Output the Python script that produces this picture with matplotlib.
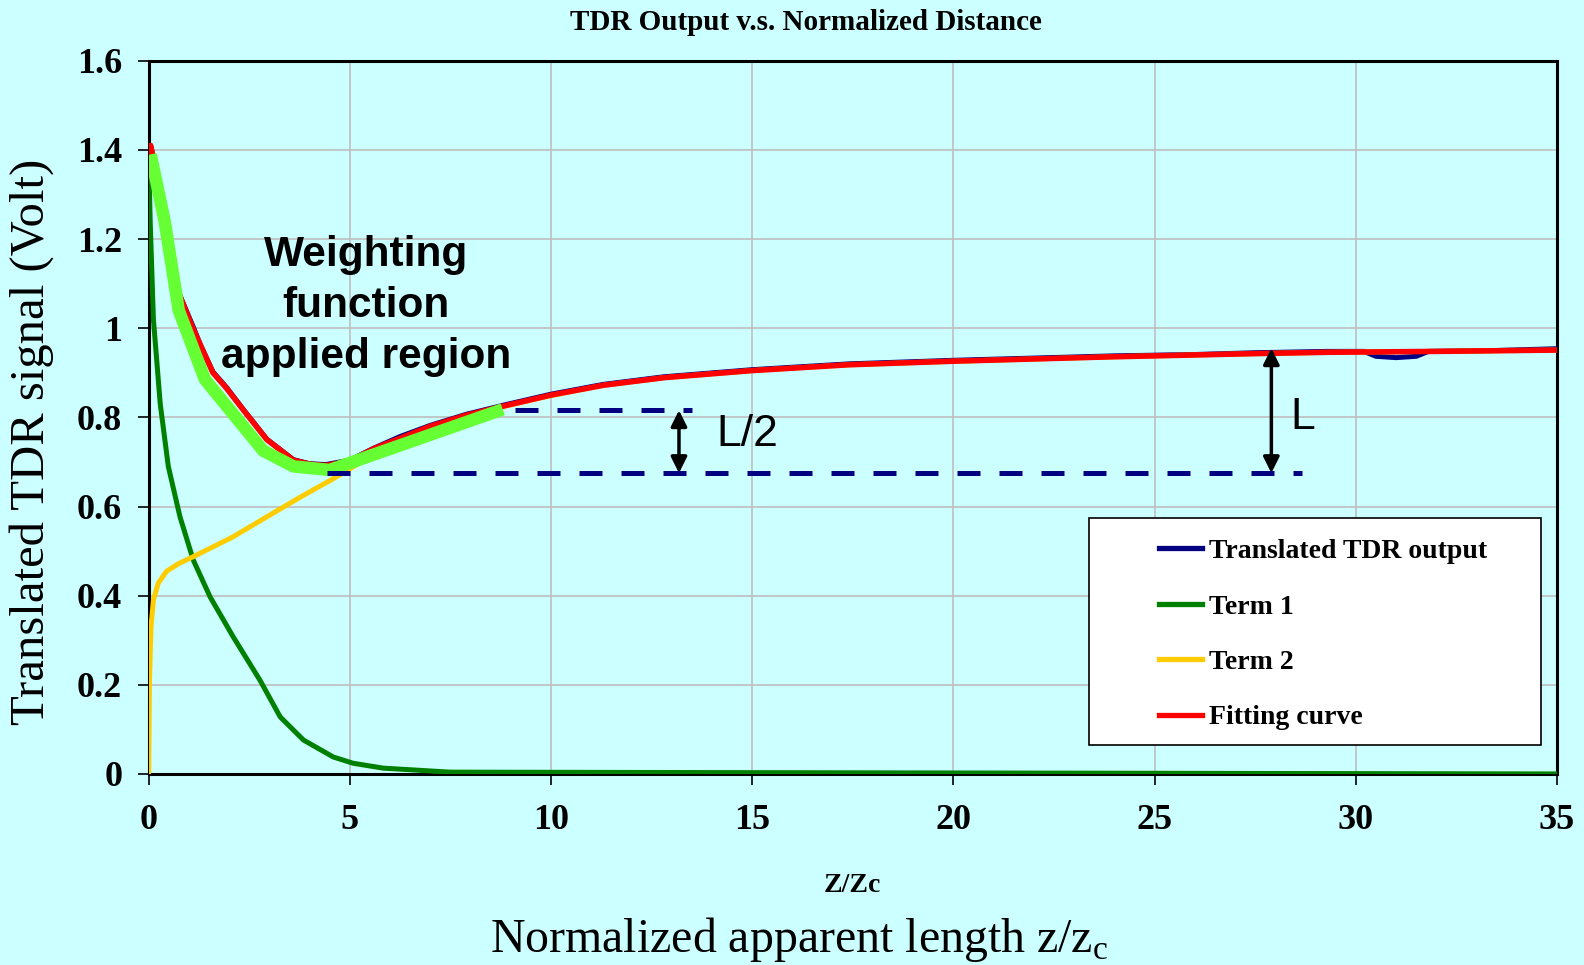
#!/usr/bin/env python3

import matplotlib
matplotlib.use("Agg")
import matplotlib.pyplot as plt
from matplotlib.patches import Rectangle

# Data
x_ticks = [0, 5, 10, 15, 20, 25, 30, 35]
y_ticks = [0, 0.2, 0.4, 0.6, 0.8, 1.0, 1.2, 1.4, 1.6]
y_tick_labels = ["0", "0.2", "0.4", "0.6", "0.8", "1", "1.2", "1.4", "1.6"]

# Translated TDR output (navy)
tdr_x = [0.0, 0.05, 0.15, 0.37, 0.7, 1.1, 1.3, 1.6, 1.94, 2.36, 2.94, 3.6, 4.0, 4.4,
         5.0, 5.6, 6.25, 7.0, 7.9, 8.85, 10, 11.3, 12.8, 15, 17.4, 20, 22.4, 24,
         26, 27.5, 29.3, 30.2, 30.5, 31.0, 31.5, 31.8, 33.5, 35]
tdr_y = [1.40, 1.41, 1.37, 1.25, 1.09, 1.005, 0.96, 0.902, 0.867, 0.817, 0.751, 0.705,
         0.696, 0.694, 0.704, 0.731, 0.757, 0.782, 0.807, 0.828, 0.852, 0.874, 0.891,
         0.907, 0.920, 0.928, 0.934, 0.938, 0.941, 0.945, 0.948, 0.948, 0.937, 0.934,
         0.937, 0.948, 0.950, 0.954]

# Term 1 (green)
term1_x = [0.0, 0.04, 0.12, 0.29, 0.49, 0.78, 1.11, 1.53, 2.1, 2.77, 3.27, 3.85,
           4.59, 5.08, 5.83, 7.5, 35]
term1_y = [1.40, 1.24, 1.02, 0.83, 0.69, 0.577, 0.48, 0.397, 0.308, 0.21, 0.128,
           0.076, 0.038, 0.024, 0.013, 0.004, 0.0]

# Term 2 (yellow)
term2_x = [0.0, 0.02, 0.06, 0.12, 0.24, 0.45, 0.75, 1.1, 2.1, 2.94, 3.77, 4.6, 5.6,
           6.3, 7.0, 7.9, 8.85, 10, 11.3, 12.8, 15, 17.4, 20, 22.4, 24, 26, 27.5,
           29.3, 32, 35]
term2_y = [0.0, 0.2, 0.33, 0.39, 0.428, 0.455, 0.472, 0.487, 0.532, 0.577, 0.621,
           0.663, 0.717, 0.747, 0.775, 0.803, 0.825, 0.849, 0.872, 0.889, 0.905,
           0.918, 0.926, 0.932, 0.936, 0.940, 0.943, 0.946, 0.948, 0.951]

# Fitting curve (red)
fit_x = [0.0, 0.05, 0.15, 0.37, 0.7, 1.1, 1.6, 1.94, 2.36, 2.94, 3.6, 4.0, 4.4, 5.0,
         5.6, 6.3, 7.0, 7.9, 8.85, 10, 11.3, 12.8, 15, 17.4, 20, 22.4, 24, 26, 27.5,
         29.3, 32, 35]
fit_y = [1.39, 1.41, 1.37, 1.25, 1.09, 1.0, 0.9, 0.865, 0.816, 0.75, 0.704, 0.695,
         0.692, 0.702, 0.73, 0.755, 0.78, 0.805, 0.826, 0.85, 0.872, 0.889, 0.905,
         0.918, 0.926, 0.932, 0.936, 0.940, 0.943, 0.946, 0.948, 0.951]

# Weighting function region highlight (lime)
weight_x = [0.05, 0.4, 0.75, 1.4, 2.85, 3.6, 4.5, 6.4, 8.8]
weight_y = [1.39, 1.24, 1.04, 0.885, 0.725, 0.69, 0.682, 0.742, 0.818]

# Reference levels for L and L/2
low_level = 0.675
half_level = 0.816
high_level = 0.955

bg = "#CCFFFF"
serif = "Liberation Serif"
sans = "Liberation Sans"

fig = plt.figure(figsize=(15.84, 9.65), dpi=100, facecolor=bg)
ax = fig.add_axes([0.0938, 0.198, 0.8892, 0.739])
ax.set_facecolor(bg)

ax.plot(tdr_x, tdr_y, color="#000080", lw=3.6, label="Translated TDR output", zorder=3)
ax.plot(term1_x, term1_y, color="#008000", lw=3.6, label="Term 1", zorder=3)
ax.plot(term2_x, term2_y, color="#FFCC00", lw=3.6, label="Term 2", zorder=3)
ax.plot(fit_x, fit_y, color="#FF0000", lw=4.0, label="Fitting curve", zorder=3)
ax.plot(weight_x, weight_y, color="#66FF33", lw=9.0, zorder=4, solid_capstyle="butt")

# dashed reference lines
ax.plot([4.43, 28.67], [low_level, low_level], color="#000080", lw=3.6,
        dashes=(4.6, 3.8), zorder=5)
ax.plot([9.1, 13.5], [half_level, half_level], color="#000080", lw=3.6,
        dashes=(4.6, 3.8), zorder=5)

# arrows
arrow_kw = dict(arrowstyle="<|-|>", color="black", lw=2.5, mutation_scale=24,
                shrinkA=0, shrinkB=0)
ax.annotate("", xy=(13.18, half_level), xytext=(13.18, low_level), arrowprops=arrow_kw, zorder=6)
ax.annotate("", xy=(27.9, high_level), xytext=(27.9, low_level), arrowprops=arrow_kw, zorder=6)

ax.text(14.87, 0.762, "L/2", fontsize=32, family=sans, ha="center", va="center")
ax.text(28.69, 0.799, "L", fontsize=32, family=sans, ha="center", va="center")
ax.text(5.4, 1.05, "Weighting\nfunction\napplied region", fontsize=30.5,
        family=sans, weight="bold", ha="center", va="center", linespacing=1.35)

ax.set_xlim(0, 35)
ax.set_ylim(0, 1.6)
ax.set_xticks(x_ticks)
ax.set_yticks(y_ticks)
ax.set_yticklabels(y_tick_labels)
for lab in ax.get_xticklabels() + ax.get_yticklabels():
    lab.set_fontfamily(serif)
    lab.set_fontweight("bold")
    lab.set_fontsize(26)
ax.tick_params(axis="x", length=8, width=1.2, pad=14, direction="out")
ax.tick_params(axis="y", length=8, width=1.2, pad=11, direction="out")
ax.grid(True, color="#BEBEBE", lw=1.2)
ax.set_axisbelow(True)
for s in ax.spines.values():
    s.set_linewidth(2.2)
    s.set_color("black")

# legend: white box drawn separately, entries placed inside
box = Rectangle((1089 / 1584, 1 - 745 / 965), (1541 - 1089) / 1584, (745 - 518) / 965,
                transform=fig.transFigure, facecolor="white", edgecolor="black",
                lw=1.2, zorder=7, clip_on=False)
ax.add_patch(box)
leg = ax.legend(loc="center left", bbox_to_anchor=(1159 / 1584, 1 - 634.5 / 965),
                bbox_transform=fig.transFigure, frameon=False, borderpad=0,
                borderaxespad=0, handlelength=1.55, handletextpad=0.25,
                labelspacing=1.08, prop={"family": serif, "weight": "bold", "size": 20})
for line in leg.get_lines():
    line.set_linewidth(3.8)
leg.set_zorder(10)

fig.text(806 / 1584, 1 - 22 / 965, "TDR Output v.s. Normalized Distance",
         fontsize=21, family=serif, weight="bold", ha="center", va="center")
fig.text(852.6 / 1584, 1 - 885 / 965, "Z/Zc", fontsize=20, family=serif,
         weight="bold", ha="center", va="center")
fig.text(799 / 1584, 0.013, r"Normalized apparent length z/z$_\mathregular{c}$",
         fontsize=34.5, family=serif, ha="center", va="baseline")
fig.text(32 / 1584, 1 - 442 / 965, "Translated TDR signal (Volt)", fontsize=35,
         family=serif, rotation=90, ha="center", va="center")

fig.savefig("out.png", dpi=100, facecolor=bg)
